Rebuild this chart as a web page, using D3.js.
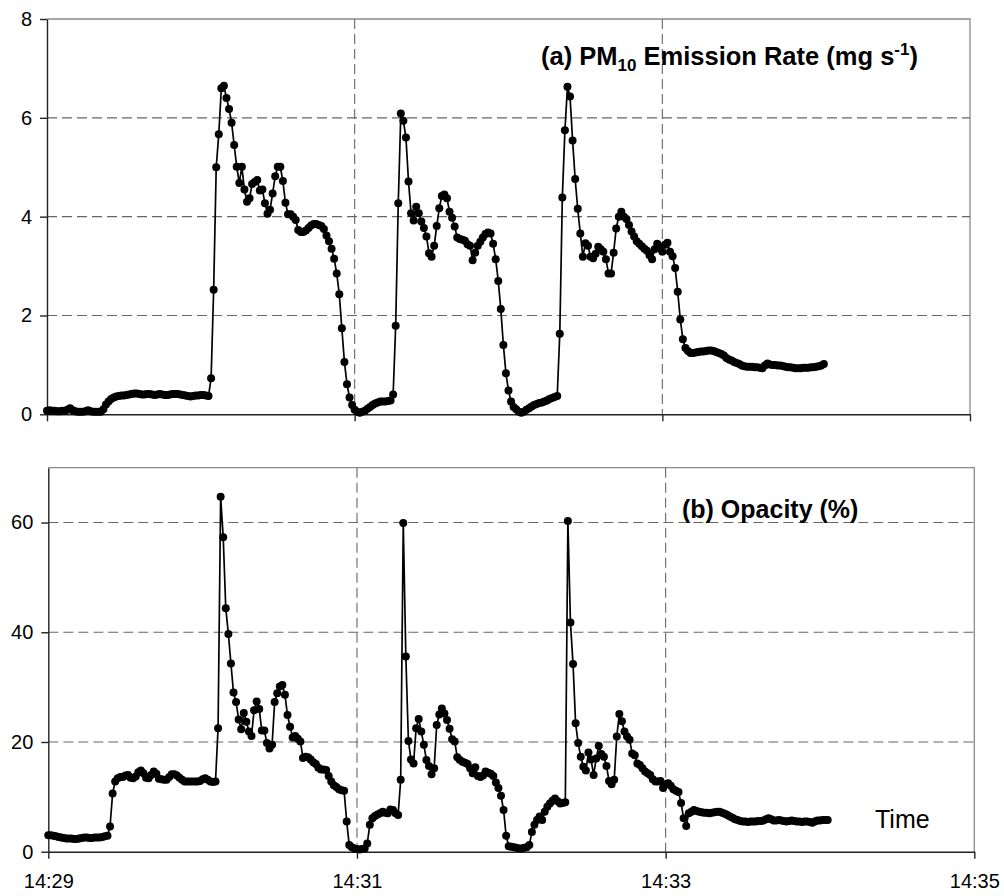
<!DOCTYPE html>
<html>
<head>
<meta charset="utf-8">
<script src="https://cdn.jsdelivr.net/npm/d3@7"></script>
<style>
  html, body { margin: 0; padding: 0; background: #fff; }
  svg { display: block; font-family: "Liberation Sans", Arial, sans-serif; }
</style>
</head>
<body>
<svg id="chart" width="1004" height="896"></svg>
<script>
// Samples are one second apart, starting at 14:29:00.
const startTime = new Date(2000, 0, 1, 14, 29, 0);
const endTime = new Date(2000, 0, 1, 14, 35, 0);
const timeTicks = [
  new Date(2000, 0, 1, 14, 29, 0),
  new Date(2000, 0, 1, 14, 31, 0),
  new Date(2000, 0, 1, 14, 33, 0),
  new Date(2000, 0, 1, 14, 35, 0)
];

// (a) PM10 emission rate, mg/s
const pm10Rate = [
  0.07, 0.08, 0.07, 0.07, 0.06, 0.06, 0.07, 0.07, 0.09, 0.12,
  0.08, 0.06, 0.05, 0.05, 0.05, 0.06, 0.08, 0.06, 0.05, 0.05,
  0.05, 0.05, 0.10, 0.20, 0.26, 0.31, 0.34, 0.36, 0.37, 0.38,
  0.38, 0.39, 0.40, 0.41, 0.42, 0.42, 0.41, 0.40, 0.40, 0.41,
  0.41, 0.40, 0.39, 0.40, 0.41, 0.40, 0.39, 0.39, 0.40, 0.41,
  0.41, 0.41, 0.40, 0.39, 0.38, 0.37, 0.36, 0.37, 0.38, 0.38,
  0.39, 0.39, 0.38, 0.37, 0.73, 2.52, 5.00, 5.67, 6.60, 6.65,
  6.40, 6.18, 5.90, 5.45, 5.01, 4.68, 5.01, 4.55, 4.30, 4.37,
  4.66, 4.70, 4.74, 4.53, 4.55, 4.27, 4.06, 4.14, 4.47, 4.82,
  5.01, 5.01, 4.72, 4.28, 4.05, 4.05, 4.00, 3.93, 3.73, 3.69,
  3.69, 3.72, 3.77, 3.82, 3.85, 3.85, 3.83, 3.81, 3.75, 3.62,
  3.50, 3.35, 3.15, 2.85, 2.43, 1.74, 1.06, 0.61, 0.34, 0.19,
  0.09, 0.05, 0.03, 0.05, 0.07, 0.11, 0.15, 0.19, 0.22, 0.24,
  0.26, 0.26, 0.26, 0.27, 0.28, 0.40, 1.79, 4.27, 6.09, 5.94,
  5.60, 4.71, 4.07, 3.92, 4.20, 4.07, 3.90, 3.77, 3.60, 3.26,
  3.19, 3.41, 3.81, 4.17, 4.42, 4.45, 4.37, 4.10, 3.98, 3.80,
  3.58, 3.55, 3.53, 3.51, 3.44, 3.41, 3.12, 3.27, 3.41, 3.49,
  3.58, 3.65, 3.68, 3.66, 3.45, 3.14, 2.70, 2.13, 1.40, 0.83,
  0.48, 0.26, 0.15, 0.10, 0.05, 0.03, 0.05, 0.09, 0.12, 0.16,
  0.19, 0.21, 0.23, 0.24, 0.26, 0.28, 0.31, 0.33, 0.35, 0.37,
  1.63, 4.39, 5.75, 6.63, 6.43, 5.54, 4.76, 4.16, 3.66, 3.19,
  3.46, 3.41, 3.19, 3.16, 3.25, 3.39, 3.34, 3.29, 3.14, 2.85,
  2.85, 3.27, 3.76, 4.00, 4.10, 4.00, 3.95, 3.83, 3.70, 3.60,
  3.50, 3.45, 3.40, 3.35, 3.31, 3.22, 3.14, 3.34, 3.45, 3.36,
  3.29, 3.43, 3.47, 3.29, 3.20, 2.96, 2.48, 1.92, 1.52, 1.34,
  1.28, 1.24, 1.24, 1.25, 1.26, 1.27, 1.27, 1.28, 1.29, 1.29,
  1.28, 1.26, 1.24, 1.22, 1.19, 1.14, 1.11, 1.09, 1.06, 1.04,
  1.02, 0.99, 0.97, 0.96, 0.96, 0.96, 0.95, 0.95, 0.94, 0.93,
  0.99, 1.03, 1.01, 1.00, 1.00, 0.99, 0.99, 0.98, 0.96, 0.95,
  0.95, 0.94, 0.93, 0.93, 0.93, 0.94, 0.94, 0.94, 0.95, 0.95,
  0.96, 0.97, 0.99, 1.02
];

// (b) Opacity, %
const opacity = [
  3.0, 3.0, 2.9, 2.8, 2.7, 2.6, 2.5, 2.4, 2.4, 2.4,
  2.3, 2.3, 2.4, 2.5, 2.6, 2.6, 2.5, 2.5, 2.6, 2.6,
  2.6, 2.7, 2.8, 2.9, 4.6, 10.6, 12.8, 13.4, 13.6, 13.6,
  13.9, 14.0, 13.5, 13.4, 13.7, 14.5, 14.8, 14.3, 13.5, 13.4,
  14.0, 14.6, 14.2, 13.3, 13.2, 13.1, 13.1, 13.6, 14.1, 14.1,
  13.9, 13.5, 13.1, 12.8, 12.8, 12.8, 12.8, 12.8, 12.8, 12.9,
  13.2, 13.4, 13.1, 12.8, 12.7, 12.8, 22.5, 64.7, 57.3, 44.4,
  39.7, 34.3, 29.0, 27.3, 24.1, 22.3, 25.3, 23.7, 21.9, 21.1,
  25.8, 27.4, 26.0, 22.1, 22.1, 19.8, 18.8, 19.5, 27.3, 28.9,
  30.1, 30.4, 28.6, 24.9, 22.8, 20.8, 21.1, 20.6, 20.1, 17.1,
  17.3, 17.2, 16.8, 16.3, 16.0, 15.3, 15.0, 15.0, 14.9, 13.8,
  12.8, 12.1, 11.8, 11.4, 11.2, 11.1, 5.5, 1.2, 0.8, 0.6,
  0.5, 0.4, 0.5, 0.6, 1.5, 4.9, 6.1, 6.5, 6.8, 7.0,
  7.3, 7.1, 7.0, 7.7, 7.6, 7.0, 6.7, 13.1, 59.9, 35.6,
  20.2, 16.8, 16.1, 22.5, 24.2, 21.9, 19.5, 16.7, 15.6, 14.1,
  15.2, 23.1, 25.0, 26.1, 25.2, 24.0, 22.4, 20.5, 20.1, 17.2,
  16.7, 16.4, 16.2, 16.0, 15.2, 14.3, 15.4, 13.8, 13.6, 13.9,
  14.6, 14.4, 14.2, 13.8, 12.6, 11.6, 10.2, 7.6, 2.9, 1.0,
  0.9, 0.8, 0.7, 0.6, 0.6, 0.7, 0.8, 1.2, 3.6, 4.9,
  5.8, 6.4, 5.8, 7.3, 8.2, 8.8, 9.3, 9.7, 9.2, 8.8,
  8.9, 9.0, 60.3, 41.8, 34.2, 23.4, 19.8, 17.3, 15.5, 14.8,
  18.1, 16.8, 14.0, 17.0, 19.3, 17.8, 17.3, 15.6, 12.9, 12.3,
  13.1, 21.0, 25.1, 23.8, 21.9, 21.0, 20.4, 17.9, 17.6, 16.1,
  15.8, 15.2, 14.6, 14.3, 14.0, 13.2, 12.8, 12.8, 12.9, 11.6,
  12.3, 12.5, 12.0, 11.4, 11.1, 10.9, 8.9, 6.1, 4.7, 7.0,
  7.3, 7.6, 7.4, 7.3, 7.2, 7.1, 7.1, 7.0, 7.1, 7.2,
  7.3, 7.3, 7.1, 6.9, 6.7, 6.4, 6.2, 5.9, 5.8, 5.6,
  5.5, 5.5, 5.4, 5.5, 5.5, 5.5, 5.6, 5.6, 5.7, 5.9,
  6.1, 5.9, 5.7, 5.7, 5.8, 5.7, 5.6, 5.5, 5.6, 5.7,
  5.6, 5.5, 5.5, 5.4, 5.5, 5.5, 5.4, 5.3, 5.5, 5.7,
  5.7, 5.8, 5.8, 5.8
];

const pm10Ticks = [0, 2, 4, 6, 8];
const opacityTicks = [0, 20, 40, 60];

const svg = d3.select("#chart");
const timeAt = i => new Date(startTime.getTime() + i * 1000);

function drawPanel(p) {
  const g = svg.append("g");
  const x = d3.scaleTime().domain([startTime, endTime]).range([p.left, p.right]);
  const y = d3.scaleLinear().domain([0, p.yMax]).range([p.bottom, p.top]);

  // plot-area frame (top and right edges)
  g.append("path")
    .attr("d", `M${p.left},${p.top}H${p.right}V${p.bottom}`)
    .attr("fill", "none").attr("stroke", "#8a8a8a").attr("stroke-width", 1.3);

  // horizontal grid
  g.append("g").selectAll("line")
    .data(p.yTicks.filter(v => v > 0 && v < p.yMax))
    .join("line")
    .attr("x1", p.left).attr("x2", p.right)
    .attr("y1", d => y(d)).attr("y2", d => y(d))
    .attr("stroke", "#666").attr("stroke-width", 1.1)
    .attr("stroke-dasharray", "10,5");

  // vertical grid
  g.append("g").selectAll("line")
    .data(timeTicks.slice(1, -1))
    .join("line")
    .attr("x1", d => x(d)).attr("x2", d => x(d))
    .attr("y1", p.top).attr("y2", p.bottom)
    .attr("stroke", "#666").attr("stroke-width", 1.1)
    .attr("stroke-dasharray", "10,5");

  // y axis
  const ya = g.append("g")
    .attr("transform", `translate(${p.left},0)`)
    .call(d3.axisLeft(y).tickValues(p.yTicks).tickSize(7).tickSizeOuter(0).tickPadding(8));
  ya.select(".domain").attr("stroke", "#222").attr("stroke-width", 1.4);
  ya.selectAll(".tick line").attr("stroke", "#222").attr("stroke-width", 1.4);
  ya.selectAll(".tick text").attr("font-size", 20).attr("fill", "#000")
    .attr("font-family", "Liberation Sans, Arial, sans-serif");

  // x axis
  const xa = g.append("g")
    .attr("transform", `translate(0,${p.bottom})`)
    .call(d3.axisBottom(x).tickValues(timeTicks).tickSize(7).tickSizeOuter(0).tickPadding(15)
      .tickFormat(p.showTimeLabels ? d3.timeFormat("%H:%M") : () => ""));
  xa.select(".domain").attr("stroke", "#222").attr("stroke-width", 1.4);
  xa.selectAll(".tick line").attr("stroke", "#222").attr("stroke-width", 1.4);
  xa.selectAll(".tick text").attr("font-size", 20).attr("fill", "#000")
    .attr("font-family", "Liberation Sans, Arial, sans-serif");

  // series line and markers
  const line = d3.line().x((d, i) => x(timeAt(i))).y(d => y(d));
  g.append("path").datum(p.values)
    .attr("d", line).attr("fill", "none")
    .attr("stroke", "#000").attr("stroke-width", 1.7).attr("stroke-linejoin", "round");
  g.append("g").selectAll("circle")
    .data(p.values)
    .join("circle")
    .attr("cx", (d, i) => x(timeAt(i)))
    .attr("cy", d => y(d))
    .attr("r", 4)
    .attr("fill", "#000");

  return { g, x, y };
}

drawPanel({
  left: 47, right: 970, top: 19, bottom: 414.3,
  yMax: 8, yTicks: pm10Ticks, values: pm10Rate, showTimeLabels: false
});

drawPanel({
  left: 48.3, right: 974.3, top: 467.7, bottom: 851.7,
  yMax: 70, yTicks: opacityTicks, values: opacity, showTimeLabels: true
});

// panel titles
const titleA = svg.append("text")
  .attr("x", 541).attr("y", 65)
  .attr("font-size", 25.5).attr("font-weight", "bold").attr("fill", "#000");
titleA.append("tspan").text("(a) PM");
titleA.append("tspan").attr("font-size", 17).attr("dy", 6).text("10");
titleA.append("tspan").attr("dy", -6).text(" Emission Rate (mg s");
titleA.append("tspan").attr("font-size", 17).attr("dy", -10).text("-1");
titleA.append("tspan").attr("dy", 10).text(")");

svg.append("text")
  .attr("x", 682).attr("y", 518)
  .attr("font-size", 25).attr("font-weight", "bold").attr("fill", "#000")
  .text("(b) Opacity (%)");

svg.append("text")
  .attr("x", 875).attr("y", 828)
  .attr("font-size", 25).attr("fill", "#000")
  .text("Time");
</script>
</body>
</html>
